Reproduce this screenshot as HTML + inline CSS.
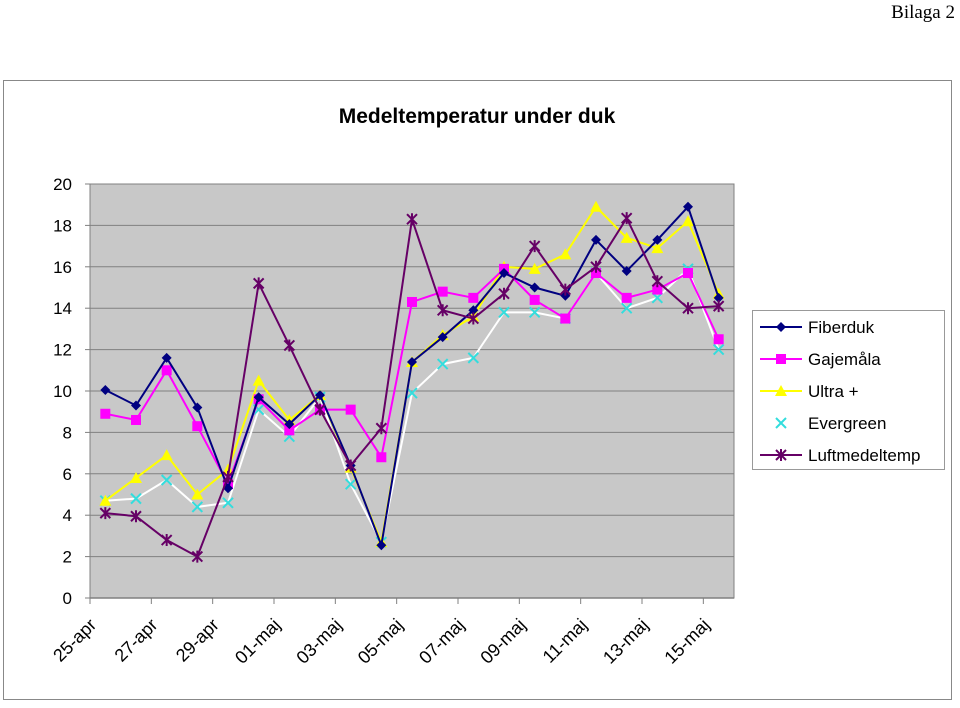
<!DOCTYPE html>
<html><head><meta charset="utf-8"><style>
body{margin:0;background:#fff;}
svg text{font-family:"Liberation Sans",sans-serif;}
</style></head><body>
<svg width="960" height="703" viewBox="0 0 960 703">
<text x="955" y="18" text-anchor="end" font-size="19" style="font-family:'Liberation Serif',serif">Bilaga 2</text>
<rect x="3.5" y="80.5" width="948" height="619" fill="#fff" stroke="#888"/>
<text x="477" y="123" text-anchor="middle" font-size="21" font-weight="bold">Medeltemperatur under duk</text>
<rect x="90" y="184" width="644" height="414" fill="#c8c8c8" stroke="#808080"/>
<g id="grid"></g><g id="axes"></g><g id="series"></g>
<g>
<rect x="752.5" y="310.5" width="192" height="159" fill="#fff" stroke="#999"/>
<g id="legend"></g>
</g>
</svg>
<script>
const categories=["25-apr","26-apr","27-apr","28-apr","29-apr","30-apr","01-maj","02-maj","03-maj","04-maj","05-maj","06-maj","07-maj","08-maj","09-maj","10-maj","11-maj","12-maj","13-maj","14-maj","15-maj"];
const yTicks=[0,2,4,6,8,10,12,14,16,18,20];
const fiberduk=[10.05,9.3,11.6,9.2,5.3,9.7,8.4,9.8,6.4,2.55,11.4,12.6,13.9,15.7,15.0,14.6,17.3,15.8,17.3,18.9,14.5];
const gajemala=[8.9,8.6,11.0,8.3,5.5,9.6,8.1,9.1,9.1,6.8,14.3,14.8,14.5,15.9,14.4,13.5,15.7,14.5,14.9,15.7,12.5];
const ultra=[4.7,5.8,6.9,5.0,6.2,10.5,8.6,9.8,6.3,2.7,11.4,12.7,13.6,16.0,15.9,16.6,18.9,17.4,16.9,18.2,14.7];
const evergreen=[4.7,4.8,5.7,4.4,4.6,9.1,7.8,9.7,5.5,2.7,9.9,11.3,11.6,13.8,13.8,13.5,15.7,14.0,14.5,15.9,12.0];
const luft=[4.1,3.95,2.8,2.0,5.85,15.2,12.2,9.1,6.4,8.2,18.3,13.9,13.5,14.7,17.0,14.9,16.0,18.35,15.3,14.0,14.1];
const seriesNames=["Fiberduk","Gajemåla","Ultra +","Evergreen","Luftmedeltemp"];

const NS="http://www.w3.org/2000/svg";
const X0=90,X1=734,Y0=598,Y1=184;
const cw=(X1-X0)/categories.length;
const xS=i=>X0+cw*(i+0.5);
const yS=v=>Y0-(v-0)/(20-0)*(Y0-Y1);
function mk(t,a,p){const e=document.createElementNS(NS,t);for(const k in a)e.setAttribute(k,a[k]);p.appendChild(e);return e;}
const grid=document.getElementById('grid'),axes=document.getElementById('axes'),ser=document.getElementById('series'),leg=document.getElementById('legend');
yTicks.forEach(v=>{
 const y=yS(v);
 if(v>0&&v<20){const l=mk('line',{x1:X0,x2:X1,y1:y,y2:y,stroke:'#808080','stroke-width':1},grid);
 
 }
 const t=mk('text',{x:72,y:y+6,'text-anchor':'end','font-size':17},axes);t.textContent=v;
 
 
 mk('line',{x1:X0-5,x2:X0,y1:y,y2:y,stroke:'#808080'},axes);
});
mk('line',{x1:X0,x2:X1,y1:Y0,y2:Y0,stroke:'#808080','stroke-width':1.5},axes);
for(let i=0;i<=categories.length;i+=2){mk('line',{x1:X0+cw*i,x2:X0+cw*i,y1:Y0,y2:Y0+6,stroke:'#808080'},axes);}
categories.forEach((c,i)=>{ if(i%2)return;
 const x=xS(i)-8,y=626;
 const t=mk('text',{x:x,y:y,'text-anchor':'end','font-size':18,transform:`rotate(-45 ${x} ${y})`},axes);t.textContent=c;
 
 
});
function marker(g,type,x,y,col){
 if(type==='diamond')mk('polygon',{points:`${x},${y-5} ${x+5},${y} ${x},${y+5} ${x-5},${y}`,fill:col},g);
 else if(type==='square')mk('rect',{x:x-5,y:y-5,width:10,height:10,fill:col},g);
 else if(type==='tri')mk('polygon',{points:`${x},${y-6} ${x+6},${y+5} ${x-6},${y+5}`,fill:col},g);
 else if(type==='x'){mk('path',{d:`M${x-5} ${y-5}L${x+5} ${y+5}M${x+5} ${y-5}L${x-5} ${y+5}`,stroke:col,'stroke-width':2},g);}
 else if(type==='star'){mk('path',{d:`M${x-5} ${y-5}L${x+5} ${y+5}M${x+5} ${y-5}L${x-5} ${y+5}M${x} ${y-6}L${x} ${y+6}`,stroke:col,'stroke-width':2},g);}
}
const defs=[[fiberduk,'#000080','#000080','diamond','series-fiberduk'],[gajemala,'#ff00ff','#ff00ff','square','series-gajemala'],[ultra,'#ffff00','#ffff00','tri','series-ultra'],[evergreen,'#ffffff','#33dddd','x','series-evergreen'],[luft,'#660066','#660066','star','series-luftmedeltemp']];
const order=[3,2,1,0,4];
order.forEach(k=>{const [d,lc,mc,mt,name]=defs[k];
 const g=mk('g',{},ser);
 
 
 mk('polyline',{points:d.map((v,i)=>xS(i)+','+yS(v)).join(' '),fill:'none',stroke:lc,'stroke-width':2},g);
 d.forEach((v,i)=>marker(g,mt,xS(i),yS(v),mc));
});
defs.forEach((s,k)=>{const y=327+k*32;
 const g=mk('g',{},leg);
 
 
 if(k!==3)mk('line',{x1:760,x2:802,y1:y,y2:y,stroke:s[1],'stroke-width':2},g);
 marker(g,s[3],781,y,s[2]);
 const t=mk('text',{x:808,y:y+6,'font-size':17},g);t.textContent=seriesNames[k];
});
</script>
</body></html>
